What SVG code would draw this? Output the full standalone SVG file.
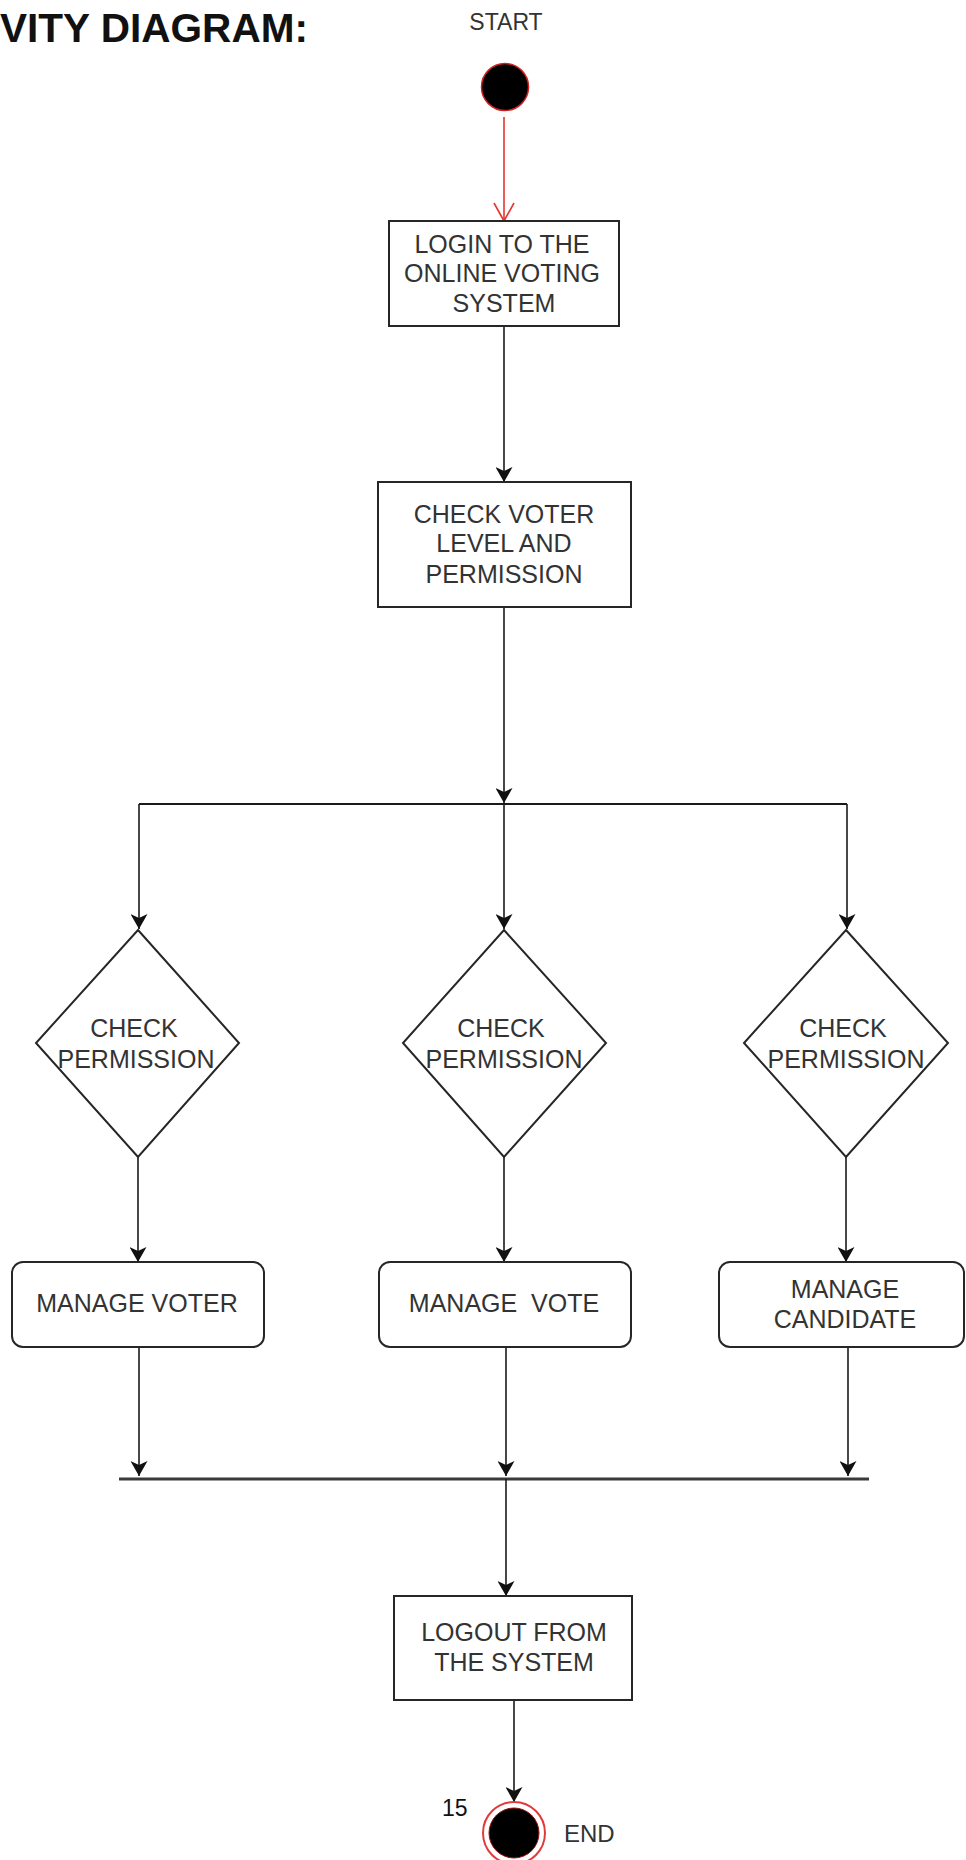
<svg xmlns="http://www.w3.org/2000/svg" width="966" height="1860" viewBox="0 0 966 1860">
  <defs>
    <style>
      .box { fill: #ffffff; stroke: #262626; stroke-width: 2; }
      .lbl { font-family: "Liberation Sans", Arial, sans-serif; font-size: 25px; fill: #333333; text-anchor: middle; }
      .flow { fill: none; stroke: #1a1a1a; stroke-width: 1.6; marker-end: url(#arrow); }
      .bar { fill: none; stroke: #1a1a1a; stroke-width: 1.8; }
    </style>
    <marker id="arrow" viewBox="0 0 16 17" markerWidth="16" markerHeight="17" refX="15" refY="8.5" orient="auto" markerUnits="userSpaceOnUse">
      <path d="M0,0 L15,8.5 L0,17 L4,8.5 Z" fill="#111111"/>
    </marker>
    <marker id="openArrow" viewBox="-2 -2 22 24" markerWidth="22" markerHeight="24" refX="18" refY="10" orient="auto" markerUnits="userSpaceOnUse">
      <path d="M0,0 L18,10 L0,20" fill="none" stroke="#e8342f" stroke-width="1.6"/>
    </marker>
  </defs>

  <rect x="0" y="0" width="966" height="1860" fill="#ffffff"/>

  <!-- heading, partly outside the page on the left -->
  <text x="308" y="42" text-anchor="end" font-family="'Liberation Sans', Arial, sans-serif" font-weight="bold" font-size="40" fill="#111111" textLength="308" lengthAdjust="spacingAndGlyphs">VITY DIAGRAM:</text>

  <!-- connectors -->
  <g id="connectors">
    <line x1="504" y1="117" x2="504" y2="221" stroke="#e8342f" stroke-width="1.6" marker-end="url(#openArrow)"/>
    <line class="flow" x1="504" y1="326" x2="504" y2="482"/>
    <line class="flow" x1="504" y1="607" x2="504" y2="803"/>
    <line class="bar" x1="139" y1="804" x2="847" y2="804"/>
    <line class="flow" x1="139" y1="804" x2="139" y2="929"/>
    <line class="flow" x1="504" y1="804" x2="504" y2="929"/>
    <line class="flow" x1="847" y1="804" x2="847" y2="929"/>
    <line class="flow" x1="138" y1="1157" x2="138" y2="1262"/>
    <line class="flow" x1="504" y1="1157" x2="504" y2="1262"/>
    <line class="flow" x1="846" y1="1157" x2="846" y2="1262"/>
    <line class="flow" x1="139" y1="1347" x2="139" y2="1476"/>
    <line class="flow" x1="506" y1="1347" x2="506" y2="1476"/>
    <line class="flow" x1="848" y1="1347" x2="848" y2="1476"/>
    <line x1="119" y1="1479" x2="869" y2="1479" stroke="#3a3a3a" stroke-width="3"/>
    <line class="flow" x1="506" y1="1479" x2="506" y2="1596"/>
    <line class="flow" x1="514" y1="1700" x2="514" y2="1802"/>
  </g>

  <!-- initial node -->
  <g id="start">
    <text x="506" y="30" class="lbl" style="font-size:23px">START</text>
    <circle cx="505" cy="87" r="23.5" fill="#000000" stroke="#d22020" stroke-width="1.5"/>
  </g>

  <g id="login">
    <rect class="box" x="389" y="221" width="230" height="105"/>
    <text class="lbl" x="502" y="253">LOGIN TO THE</text>
    <text class="lbl" x="502" y="282">ONLINE VOTING</text>
    <text class="lbl" x="504" y="312">SYSTEM</text>
  </g>

  <g id="check-voter">
    <rect class="box" x="378" y="482" width="253" height="125"/>
    <text class="lbl" x="504" y="523">CHECK VOTER</text>
    <text class="lbl" x="504" y="552">LEVEL AND</text>
    <text class="lbl" x="504" y="583">PERMISSION</text>
  </g>

  <g id="decision-voter">
    <polygon class="box" points="138,930 239,1043 138,1157 36,1043"/>
    <text class="lbl" x="134" y="1037">CHECK</text>
    <text class="lbl" x="136" y="1068">PERMISSION</text>
  </g>

  <g id="decision-vote">
    <polygon class="box" points="504,930 606,1043 504,1157 403,1043"/>
    <text class="lbl" x="501" y="1037">CHECK</text>
    <text class="lbl" x="504" y="1068">PERMISSION</text>
  </g>

  <g id="decision-candidate">
    <polygon class="box" points="846,930 948,1043 846,1157 744,1043"/>
    <text class="lbl" x="843" y="1037">CHECK</text>
    <text class="lbl" x="846" y="1068">PERMISSION</text>
  </g>

  <g id="manage-voter">
    <rect class="box" x="12" y="1262" width="252" height="85" rx="11"/>
    <text class="lbl" x="137" y="1312">MANAGE VOTER</text>
  </g>

  <g id="manage-vote">
    <rect class="box" x="379" y="1262" width="252" height="85" rx="11"/>
    <text class="lbl" x="504" y="1312" xml:space="preserve">MANAGE  VOTE</text>
  </g>

  <g id="manage-candidate">
    <rect class="box" x="719" y="1262" width="245" height="85" rx="11"/>
    <text class="lbl" x="845" y="1298">MANAGE</text>
    <text class="lbl" x="845" y="1328">CANDIDATE</text>
  </g>

  <g id="logout">
    <rect class="box" x="394" y="1596" width="238" height="104"/>
    <text class="lbl" x="514" y="1641">LOGOUT FROM</text>
    <text class="lbl" x="514" y="1671">THE SYSTEM</text>
  </g>

  <!-- final node -->
  <g id="end">
    <circle cx="514" cy="1833" r="31" fill="#ffffff" stroke="#e23a3a" stroke-width="2"/>
    <circle cx="514" cy="1833" r="25" fill="#000000" stroke="#9a1010" stroke-width="1"/>
    <text x="564" y="1842" font-family="'Liberation Sans', Arial, sans-serif" font-size="24" fill="#333333">END</text>
  </g>

  <text x="442" y="1816" font-family="'Liberation Sans', Arial, sans-serif" font-size="23" fill="#111111">15</text>
</svg>
